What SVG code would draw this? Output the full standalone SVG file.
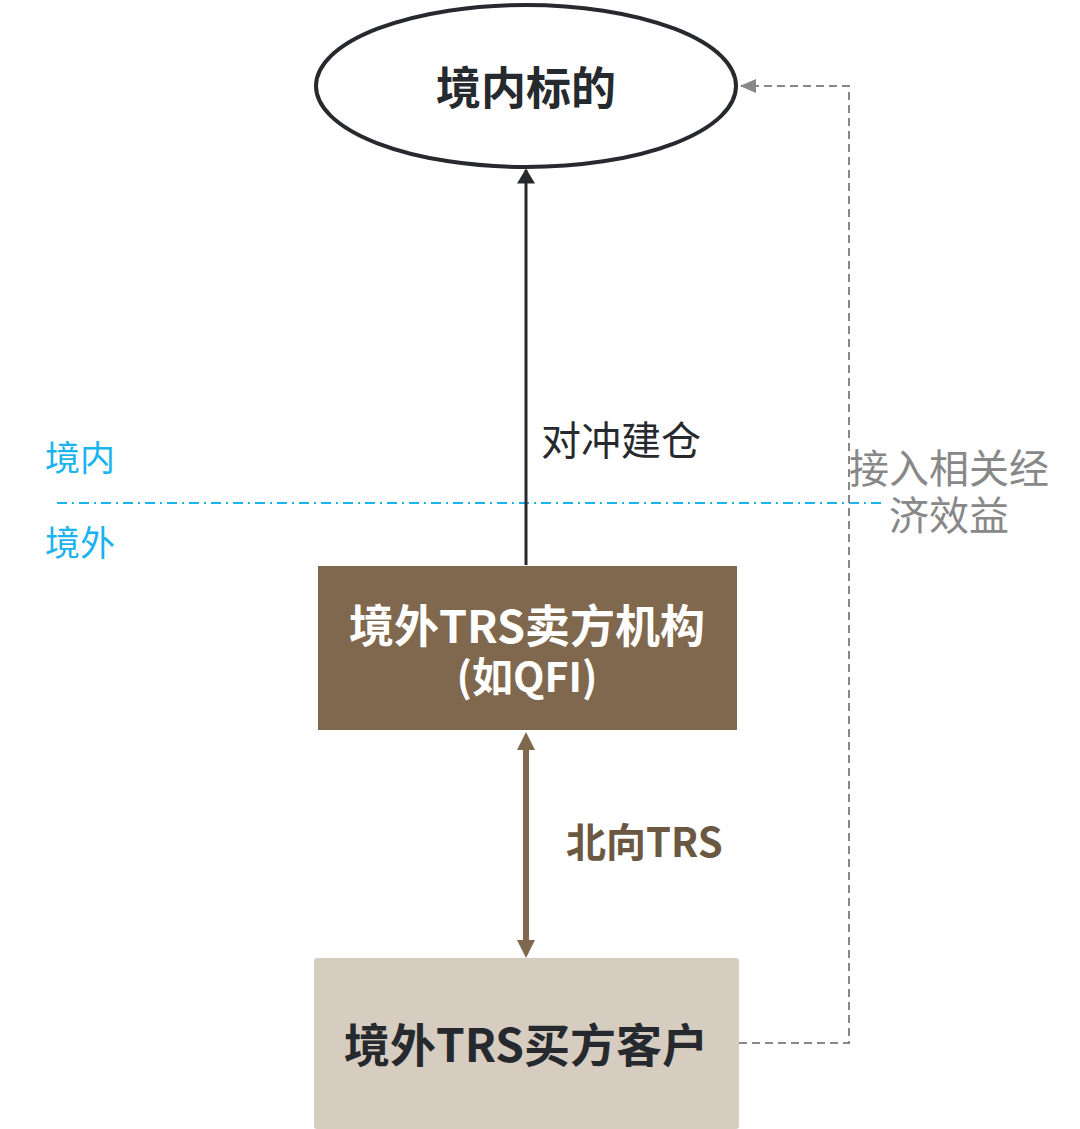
<svg xmlns="http://www.w3.org/2000/svg" width="1080" height="1129" viewBox="0 0 1080 1129">
<style>
text{font-family:"Noto Sans CJK SC","Noto Sans",sans-serif;}
.b{font-weight:bold;}
.c{text-anchor:middle;}
</style>
<defs>
<marker id="ab" markerWidth="5" markerHeight="6" refX="4.5" refY="3" orient="auto" markerUnits="strokeWidth"><path d="M0,0 L5,3 L0,6 z" fill="#262a2e"/></marker>
<marker id="ag" markerWidth="16" markerHeight="14" refX="15" refY="7" orient="auto" markerUnits="userSpaceOnUse"><path d="M0,0 L16,7 L0,14 z" fill="#888888"/></marker>
</defs>
<rect width="1080" height="1129" fill="#ffffff"/>
<g id="boundary">
<line x1="57" y1="503" x2="886" y2="503" stroke="#1ab3ee" stroke-width="2" stroke-dasharray="10,5,2,5"/>
<text x="45" y="471" font-size="35" fill="#1ab3ee">境内</text>
<text x="45" y="556" font-size="35" fill="#1ab3ee">境外</text>
</g>
<g id="connectors">
<line x1="526" y1="565" x2="526" y2="170" stroke="#262a2e" stroke-width="3" marker-end="url(#ab)"/>
<line x1="526" y1="750" x2="526" y2="940" stroke="#7f684d" stroke-width="6"/>
<path d="M517,750 L526,732 L535,750 z" fill="#7f684d"/>
<path d="M517,940 L526,958 L535,940 z" fill="#7f684d"/>
<polyline points="739,1043 849,1043 849,86 741,86" fill="none" stroke="#888888" stroke-width="2" stroke-dasharray="8,5" marker-end="url(#ag)"/>
<text x="541" y="455" font-size="40" fill="#262a2e">对冲建仓</text>
<text x="566" y="857" font-size="40" class="b" fill="#6b5843">北向TRS</text>
<text x="949" y="483" font-size="40" class="c" fill="#888888">接入相关经</text>
<text x="949" y="530" font-size="40" class="c" fill="#888888">济效益</text>
</g>
<g id="node-target">
<ellipse cx="526" cy="86" rx="210" ry="81" fill="#ffffff" stroke="#262a2e" stroke-width="4"/>
<text x="526" y="105" font-size="45" class="b c" fill="#262a2e">境内标的</text>
</g>
<g id="node-seller">
<rect x="318" y="566" width="419" height="164" fill="#7f684d"/>
<text x="527" y="643" font-size="45" class="b c" fill="#ffffff">境外TRS卖方机构</text>
<text x="527" y="692" font-size="41" class="b c" fill="#ffffff">(如QFI)</text>
</g>
<g id="node-buyer">
<rect x="314" y="958" width="425" height="171" rx="3" fill="#d6ccc0"/>
<text x="526" y="1062" font-size="46" class="b c" fill="#262a2e">境外TRS买方客户</text>
</g>
</svg>
